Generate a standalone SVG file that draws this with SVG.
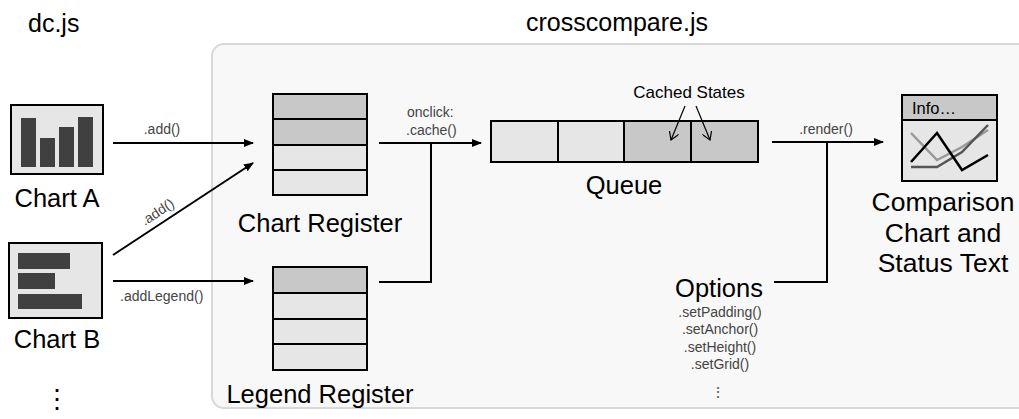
<svg xmlns="http://www.w3.org/2000/svg" width="1019" height="419" viewBox="0 0 1019 419">
<defs>
<marker id="ah" markerWidth="10" markerHeight="8" refX="9" refY="4" orient="auto" markerUnits="userSpaceOnUse">
<path d="M0,0 L10,4 L0,8 Z" fill="#000"/>
</marker>
<marker id="oh" markerWidth="10" markerHeight="10" refX="8" refY="5" orient="auto" markerUnits="userSpaceOnUse">
<path d="M0,0 L8,5 L0,10" fill="none" stroke="#000" stroke-width="1.2"/>
</marker>
<style>
text{font-family:"Liberation Sans",Arial,sans-serif;fill:#000}
.big{font-size:25.5px}
.title{font-size:25px}
.sm{font-size:14px;fill:#444}
.cell{stroke:#000;stroke-width:2}
.dk{fill:#c8c8c8}
.lt{fill:#e6e6e6}
.bar{fill:#404040}
.con{fill:none;stroke:#000;stroke-width:2}
</style>
</defs>
<rect width="1019" height="419" fill="#fff"/>
<rect x="212" y="44" width="830" height="364" rx="12" fill="#f8f8f8" stroke="#d8d8d8" stroke-width="2"/>
<text class="title" x="28" y="32">dc.js</text>
<text class="title" x="617" y="31" text-anchor="middle">crosscompare.js</text>

<g id="chartA">
<rect x="11" y="105" width="92" height="69" class="lt" stroke="#000" stroke-width="2"/>
<rect class="bar" x="21" y="118" width="15" height="49"/>
<rect class="bar" x="40" y="138" width="15" height="29"/>
<rect class="bar" x="59" y="127" width="15" height="40"/>
<rect class="bar" x="78" y="117" width="15" height="50"/>
<text class="big" x="57" y="207" text-anchor="middle">Chart A</text>
</g>

<g id="chartB">
<rect x="9" y="243" width="93" height="75" class="lt" stroke="#000" stroke-width="2"/>
<rect class="bar" x="18" y="253" width="52" height="16"/>
<rect class="bar" x="18" y="273" width="37" height="16"/>
<rect class="bar" x="18" y="294" width="64" height="15"/>
<text class="big" x="57" y="348" text-anchor="middle">Chart B</text>
<text class="big" x="57" y="408" text-anchor="middle">⋮</text>
</g>

<g id="chartRegister">
<rect class="cell dk" x="273" y="94" width="94" height="25"/>
<rect class="cell dk" x="273" y="119" width="94" height="26"/>
<rect class="cell lt" x="273" y="145" width="94" height="25"/>
<rect class="cell lt" x="273" y="170" width="94" height="25"/>
<text class="big" x="320" y="232" text-anchor="middle">Chart Register</text>
</g>

<g id="legendRegister">
<rect class="cell dk" x="273" y="267" width="94" height="26"/>
<rect class="cell lt" x="273" y="293" width="94" height="26"/>
<rect class="cell lt" x="273" y="319" width="94" height="25"/>
<rect class="cell lt" x="273" y="344" width="94" height="26"/>
<text class="big" x="320" y="403" text-anchor="middle">Legend Register</text>
</g>

<g id="queue">
<rect class="cell lt" x="491" y="121" width="67" height="41"/>
<rect class="cell lt" x="558" y="121" width="66" height="41"/>
<rect class="cell dk" x="624" y="121" width="67" height="41"/>
<rect class="cell dk" x="691" y="121" width="67" height="41"/>
<text class="big" x="624" y="194" text-anchor="middle">Queue</text>
<text x="689" y="98" text-anchor="middle" font-size="17">Cached States</text>
<line x1="685" y1="106" x2="671" y2="140" stroke="#000" stroke-width="1.2" marker-end="url(#oh)"/>
<line x1="696" y1="106" x2="710" y2="140" stroke="#000" stroke-width="1.2" marker-end="url(#oh)"/>
</g>

<g id="comparison">
<rect x="902" y="120" width="95" height="61" class="lt" stroke="#000" stroke-width="2"/>
<rect x="902" y="95" width="95" height="25" class="dk" stroke="#000" stroke-width="2"/>
<text x="912" y="114" font-size="16.5">Info…</text>
<polyline points="911,133 937,160 962,147 988,130" fill="none" stroke="#999" stroke-width="2.5"/>
<polyline points="911,167 937,167 962,152 988,125" fill="none" stroke="#555" stroke-width="2.5"/>
<polyline points="911,162 937,133 962,170 988,155" fill="none" stroke="#000" stroke-width="2.5"/>
<text x="943" y="211" text-anchor="middle" font-size="26.5">Comparison</text>
<text x="943" y="242" text-anchor="middle" font-size="26.5">Chart and</text>
<text x="943" y="272" text-anchor="middle" font-size="26.5">Status Text</text>
</g>

<g id="options">
<text x="719" y="297" text-anchor="middle" font-size="25.5">Options</text>
<text class="sm" x="720" y="317" text-anchor="middle">.setPadding()</text>
<text class="sm" x="720" y="334" text-anchor="middle">.setAnchor()</text>
<text class="sm" x="720" y="352" text-anchor="middle">.setHeight()</text>
<text class="sm" x="720" y="369" text-anchor="middle">.setGrid()</text>
<text class="sm" x="718" y="397" text-anchor="middle" fill="#888">⋮</text>
</g>

<g id="connectors">
<line class="con" x1="113" y1="143" x2="253" y2="143" marker-end="url(#ah)"/>
<text class="sm" x="162" y="134" text-anchor="middle">.add()</text>
<line class="con" x1="113" y1="255" x2="253" y2="163" marker-end="url(#ah)"/>
<text class="sm" x="0" y="0" text-anchor="middle" transform="translate(160,216) rotate(-33.3)">.add()</text>
<line class="con" x1="113" y1="281" x2="253" y2="281" marker-end="url(#ah)"/>
<text class="sm" x="120" y="301">.addLegend()</text>
<polyline class="con" points="379,282 431,282 431,143"/>
<line class="con" x1="379" y1="143" x2="481" y2="143" marker-end="url(#ah)"/>
<text class="sm" x="407" y="117">onclick:</text>
<text class="sm" x="406" y="135">.cache()</text>
<line class="con" x1="772" y1="142" x2="883" y2="142" marker-end="url(#ah)"/>
<text class="sm" x="826" y="134" text-anchor="middle">.render()</text>
<polyline class="con" points="774,282 827,282 827,142"/>
</g>
</svg>
